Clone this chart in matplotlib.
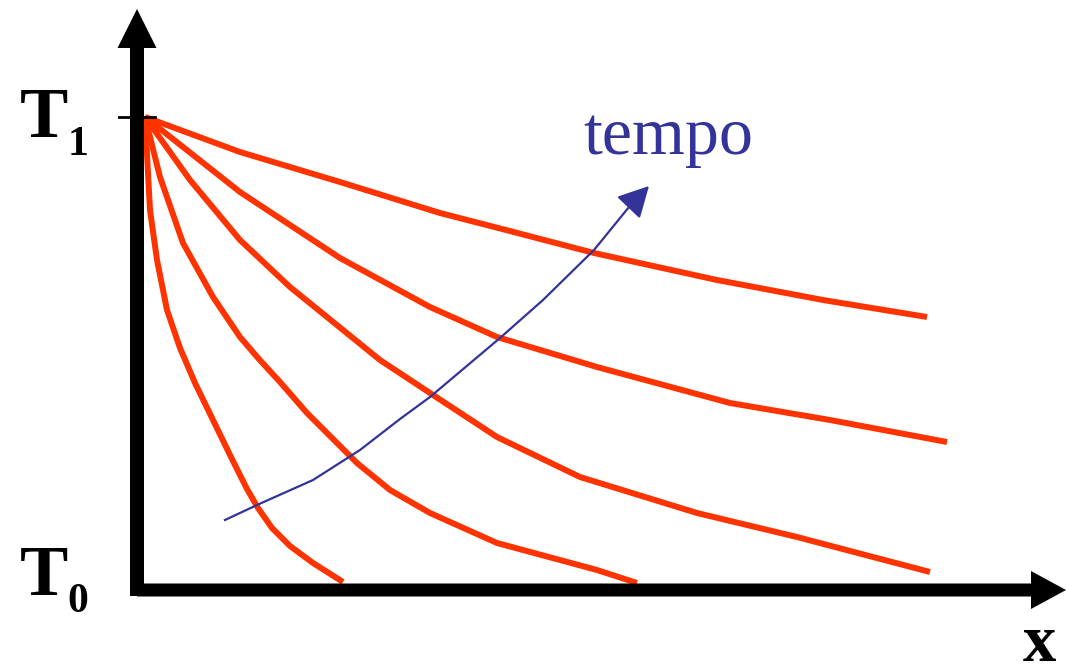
import matplotlib.pyplot as plt

# pixel-read profiles, converted to (x, T) with T0 = 0 and T1 = 1
px0, py0, py1 = 137, 590, 117
sx, sy = 100.0, py0 - py1

profile_1 = [(145, 117), (150, 210), (157, 260), (167, 310), (180, 348), (195, 383),
             (213, 420), (230, 455), (247, 489), (258, 508), (272, 528), (290, 546),
             (313, 563), (343, 582)]
profile_2 = [(145, 117), (160, 177), (183, 243), (213, 297), (240, 337), (258, 358),
             (280, 382), (307, 413), (327, 433), (357, 463), (390, 490), (430, 513),
             (497, 543), (597, 570), (637, 583)]
profile_3 = [(145, 117), (190, 180), (240, 240), (290, 287), (380, 360), (430, 393),
             (497, 437), (580, 477), (697, 513), (797, 537), (930, 572)]
profile_4 = [(145, 117), (240, 192), (340, 258), (430, 307), (497, 337), (597, 367),
             (730, 403), (830, 420), (947, 442)]
profile_5 = [(145, 117), (240, 152), (340, 182), (440, 213), (506, 230), (594, 253),
             (717, 280), (823, 300), (927, 317)]
profiles_px = [profile_1, profile_2, profile_3, profile_4, profile_5]

tempo_px = [(225, 520), (257, 505), (313, 480), (360, 450), (400, 419), (430, 397),
            (500, 338), (543, 300), (594, 250), (629, 207), (649, 186)]


def to_data(pts):
    xs = [(p[0] - px0) / sx for p in pts]
    ts = [(py0 - p[1]) / sy for p in pts]
    return xs, ts


fig = plt.figure(figsize=(10.66, 6.69), dpi=100)
ax = fig.add_axes([0, 0, 1, 1])
ax.set_xlim(-px0 / sx, (1066 - px0) / sx)
ax.set_ylim(-(669 - py0) / sy, py0 / sy)
ax.axis("off")

red = "#ff3300"
for pts in profiles_px:
    xs, ts = to_data(pts)
    ax.plot(xs, ts, color=red, lw=4.3, solid_capstyle="butt",
            solid_joinstyle="round", zorder=2)

# axes arrows
ax.arrow(0, -6 / sy, 0, (py0 + 6 - 9) / sy, width=14 / sx, head_width=39 / sx,
         head_length=39 / sy, length_includes_head=True, color="black", lw=0, zorder=3)
ax.arrow(0, 0, (1066 - px0) / sx, 0, width=13 / sy, head_width=38 / sy,
         head_length=35 / sx, length_includes_head=True, color="black", lw=0, zorder=3)
ax.plot([-0.18, 0.18], [1, 1], color="black", lw=2, zorder=3)

# tempo arrow
blue = "#333399"
xs, ts = to_data(tempo_px)
ax.plot(xs[:-1], ts[:-1], color=blue, lw=1.6, solid_joinstyle="round", zorder=4)
ax.annotate("", xy=(xs[-1], ts[-1]), xytext=(xs[-2], ts[-2]),
            arrowprops=dict(arrowstyle="-|>,head_length=0.95,head_width=0.5",
                            color=blue, lw=1.6, mutation_scale=20,
                            shrinkA=0, shrinkB=0))

serif = ["Liberation Serif", "DejaVu Serif"]
ax.text(-1.17, (py0 - 137) / sy, "T", fontsize=52, fontweight="bold", family=serif,
        va="baseline")
ax.text(-0.69, (py0 - 155) / sy, "1", fontsize=30, fontweight="bold", family=serif,
        va="baseline")
ax.text(-1.17, (py0 - 595) / sy, "T", fontsize=52, fontweight="bold", family=serif,
        va="baseline")
ax.text(-0.70, (py0 - 612) / sy, "0", fontsize=30, fontweight="bold", family=serif,
        va="baseline")
ax.text((1023 - px0) / sx, (py0 - 661) / sy, "x", fontsize=48, fontweight="bold",
        family=serif, va="baseline")
ax.text((583 - px0) / sx, (py0 - 154) / sy, "tempo", fontsize=49, color=blue,
        family=serif, va="baseline")

fig.savefig("out.png", dpi=100)
